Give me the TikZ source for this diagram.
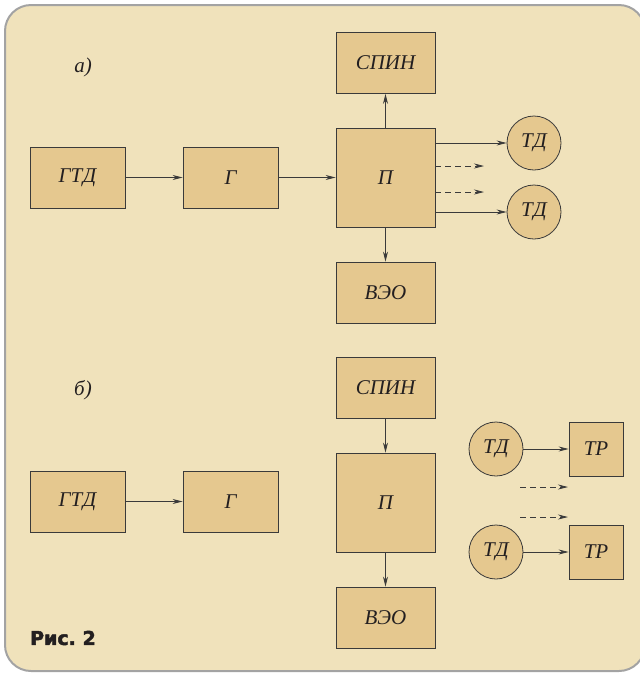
\documentclass[tikz,border=0pt]{standalone}
\usepackage{fontspec}
\setmainfont{Liberation Serif}
\newfontfamily\capfont[BoldFeatures={FakeBold=2.5}]{DejaVu Sans}
\usetikzlibrary{arrows.meta}
\definecolor{bgc}{HTML}{F0E2BB}
\definecolor{boxc}{HTML}{E5C88F}
\definecolor{framec}{HTML}{A3A3A3}
\definecolor{linec}{HTML}{3A3A3A}
\definecolor{txtc}{HTML}{231F20}
\begin{document}
\begin{tikzpicture}[x=1pt,y=-1pt,
  blk/.style={draw=linec, fill=boxc, line width=0.8pt, inner sep=0pt, text=txtc,
    font=\itshape\fontsize{21}{21}\selectfont},
  wide/.style={blk, minimum width=99pt, minimum height=61pt},
  gbox/.style={blk, minimum width=95pt, minimum height=61pt},
  big/.style={blk, minimum width=99pt, minimum height=99pt},
  small/.style={blk, minimum width=54pt, minimum height=54pt},
  rnd/.style={blk, circle, minimum size=54pt},
  arr/.style={draw=linec, line width=0.8pt, -{Stealth[length=10pt,width=5pt]}},
  darr/.style={arr, dash pattern=on 6pt off 4pt},
  lbl/.style={text=txtc, font=\itshape\fontsize{21}{21}\selectfont}
]
\useasboundingbox (0,0) rectangle (640,673);
\draw[draw=framec, line width=2pt, fill=bgc, rounded corners=26pt] (5,5) rectangle (645,671);

% part a
\node[lbl] (la) at (83,67) {а)};
\node[gbox] (gtdA) at (77.5,177.5) {ГТД};
\node[gbox] (gA) at (230.5,177.5) {Г};
\node[big] (pA) at (385.5,177.5) {П};
\node[wide] (spinA) at (385.5,63) {СПИН};
\node[wide] (veoA) at (385.5,292.5) {ВЭО};
\node[rnd] (tdA1) at (534,143) {ТД};
\node[rnd] (tdA2) at (534,212) {ТД};
\draw[arr] (gtdA) -- (gA);
\draw[arr] (gA) -- (pA);
\draw[arr] (pA) -- (spinA);
\draw[arr] (pA) -- (veoA);
\draw[arr] (pA.east |- tdA1) -- (tdA1);
\draw[arr] (pA.east |- tdA2) -- (tdA2);
\coordinate (dA1) at (484,166);
\coordinate (dA2) at (484,192);
\draw[darr] (pA.east |- dA1) -- (dA1);
\draw[darr] (pA.east |- dA2) -- (dA2);

% part b
\node[lbl] (lb) at (83,390) {б)};
\node[gbox] (gtdB) at (77.5,501.5) {ГТД};
\node[gbox] (gB) at (230.5,501.5) {Г};
\node[wide] (spinB) at (385.5,387.5) {СПИН};
\node[big] (pB) at (385.5,502.5) {П};
\node[wide] (veoB) at (385.5,617.5) {ВЭО};
\node[rnd] (tdB1) at (496,449) {ТД};
\node[rnd] (tdB2) at (496,552) {ТД};
\node[small] (trB1) at (596,449) {ТР};
\node[small] (trB2) at (596,552) {ТР};
\draw[arr] (gtdB) -- (gB);
\draw[arr] (spinB) -- (pB);
\draw[arr] (pB) -- (veoB);
\draw[arr] (tdB1) -- (trB1);
\draw[arr] (tdB2) -- (trB2);
\coordinate (dB1s) at (520,487);
\coordinate (dB1e) at (568,487);
\coordinate (dB2s) at (520,517);
\coordinate (dB2e) at (568,517);
\draw[darr] (dB1s) -- (dB1e);
\draw[darr] (dB2s) -- (dB2e);

\node[anchor=west, inner sep=0pt, text=txtc, font=\capfont\bfseries\fontsize{19}{19}\selectfont] (fig) at (30,638) {Рис.~2};
\end{tikzpicture}
\end{document}
